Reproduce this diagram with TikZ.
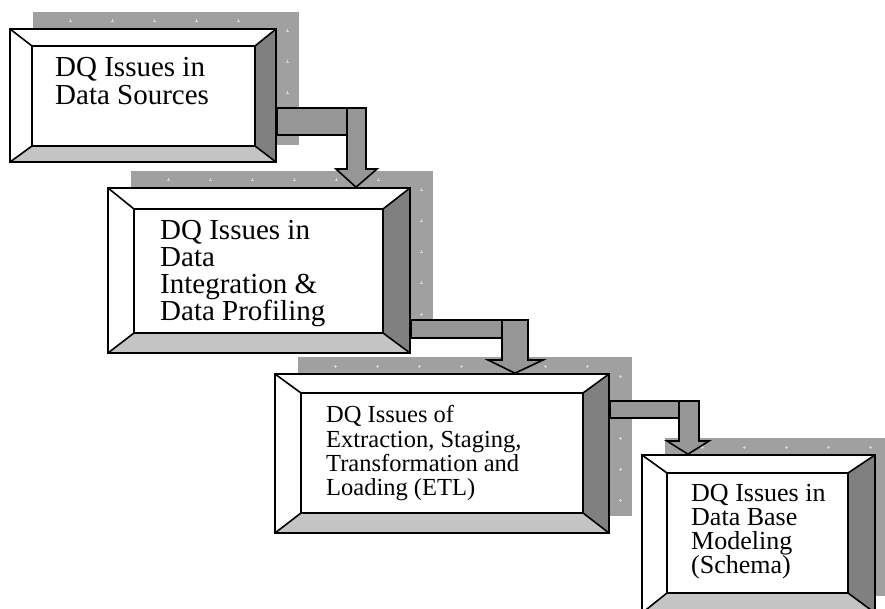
\documentclass[tikz,border=0pt]{standalone}
\usepackage{fontspec}
\setmainfont{Liberation Serif}
\usetikzlibrary{fit}
\definecolor{shadowgray}{RGB}{160,160,160}
\definecolor{rightgray}{RGB}{128,128,128}
\definecolor{bottomgray}{RGB}{196,196,196}
\definecolor{conngray}{RGB}{150,150,150}
\definecolor{tickgray}{RGB}{215,215,215}
\tikzset{
  outline/.style={draw=black, line width=1.6pt, line join=miter},
  conn/.style={fill=conngray, draw=black, line width=1.6pt, line join=miter},
  boxtext/.style={anchor=north west, align=left, inner sep=0pt, text=black},
  tick/.style={draw=tickgray, line width=0.8pt}
}
% #1 name, #2-#5 outer x1 y1 x2 y2, #6-#9 inner x1 y1 x2 y2
\newcommand{\bevbox}[9]{%
  \fill[shadowgray] (#2+23,#3-17) rectangle (#4+23,#5-17);
  \pgfmathtruncatemacro{\nxx}{(#4-#2-60)/42}%
  \pgfmathtruncatemacro{\nyy}{(#5-#3-22)/31}%
  \foreach \k in {0,...,\nxx} {
    \pgfmathsetmacro{\tx}{#2+60+42*\k}
    \draw[tick] (\tx-1.5,#3-8) -- (\tx+1.5,#3-8) (\tx,#3-9.5) -- (\tx,#3-6.5);}
  \foreach \k in {0,...,\nyy} {
    \pgfmathsetmacro{\ty}{#3+2+31*\k}
    \draw[tick] (#4+11.5,\ty-1.5) -- (#4+11.5,\ty+1.5) (#4+10,\ty) -- (#4+13,\ty);}
  \fill[white] (#2,#3) rectangle (#4,#5);
  \fill[rightgray] (#4,#3) -- (#8,#7) -- (#8,#9) -- (#4,#5) -- cycle;
  \fill[bottomgray] (#2,#5) -- (#6,#9) -- (#8,#9) -- (#4,#5) -- cycle;
  \node[inner sep=0pt, outline, fit={(#2,#3) (#4,#5)}] (#1) {};
  \draw[outline] (#6,#7) rectangle (#8,#9);
  \draw[outline] (#2,#3) -- (#6,#7) (#4,#3) -- (#8,#7) (#2,#5) -- (#6,#9) (#4,#5) -- (#8,#9);
}
\begin{document}
\begin{tikzpicture}[x=1pt,y=-1pt]
\useasboundingbox (0,0) rectangle (885,609);
\clip (0,0) rectangle (885,609);
\bevbox{b1}{10}{29}{276}{162}{32}{46}{255}{146}
\bevbox{b2}{108}{188}{410}{353}{134}{209}{383}{333}
\bevbox{b3}{275}{374}{609}{533}{301}{393}{583}{513}
\bevbox{b4}{642}{455}{875}{613}{667}{473}{848}{593}

\node[boxtext, font=\fontsize{29}{28}\selectfont] (t1) at (55,57.3) {DQ Issues in\\Data Sources};
\node[boxtext, font=\fontsize{29}{27}\selectfont] (t2) at (160,220.3) {DQ Issues in\\Data\\Integration \&\\Data Profiling};
\node[boxtext, font=\fontsize{24.5}{24.3}\selectfont] (t3) at (326,405.3) {DQ Issues of\\Extraction, Staging,\\Transformation and\\Loading (ETL)};
\node[boxtext, font=\fontsize{26}{24}\selectfont] (t4) at (691,484.3) {DQ Issues in\\Data Base\\Modeling\\(Schema)};

% connector 1
\draw[conn] (b1.east |- 0,108) rectangle (366,135);
\draw[conn] (347,108) -- (366,108) -- (366,169) -- (377,169) -- (356,0 |- b2.north) -- (336,169) -- (347,169) -- cycle;
% connector 2
\draw[conn] (b2.east |- 0,320) rectangle (528,338);
\draw[conn] (502,320) -- (528,320) -- (528,360) -- (543,360) -- (515,0 |- b3.north) -- (488,360) -- (502,360) -- cycle;
% connector 3
\draw[conn] (b3.east |- 0,401) rectangle (699,418);
\draw[conn] (679,401) -- (699,401) -- (699,441) -- (709,441) -- (688,0 |- b4.north) -- (667,441) -- (679,441) -- cycle;
\end{tikzpicture}
\end{document}
